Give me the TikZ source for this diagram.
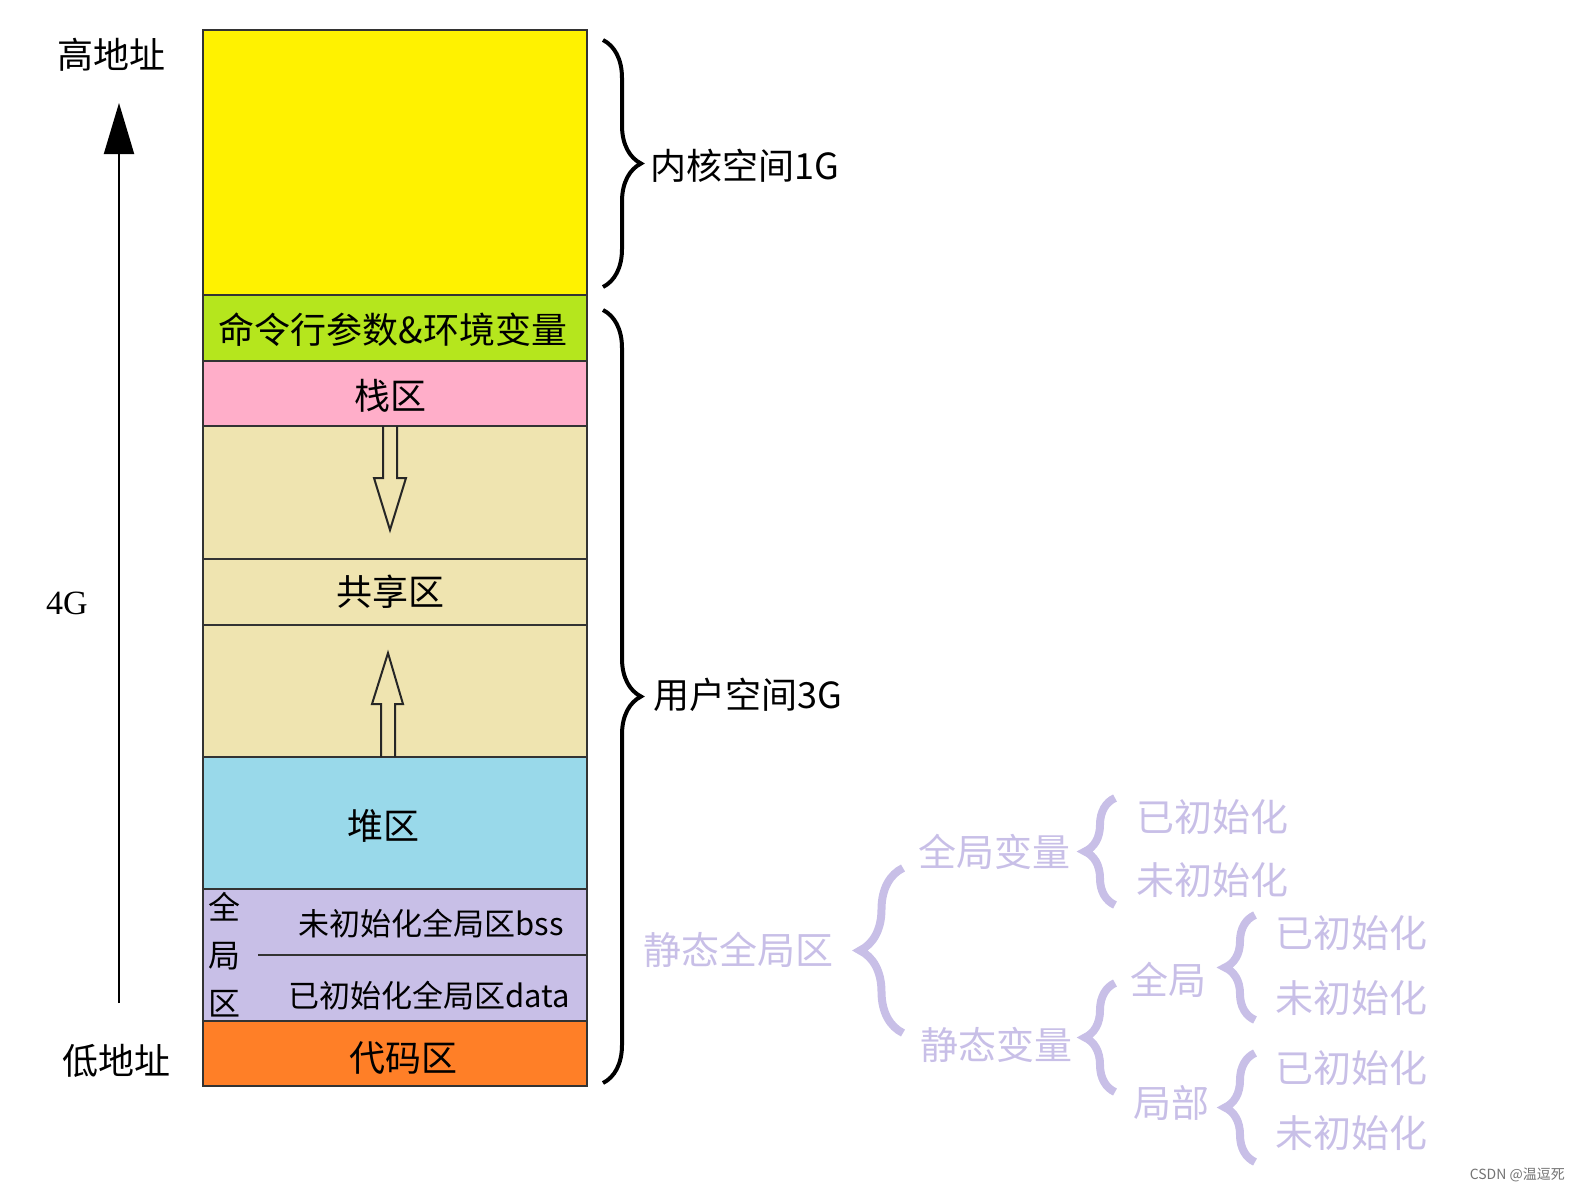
\documentclass[tikz,border=0pt]{standalone}
\usepackage{fontspec}
\newfontfamily\cjk{Noto Sans CJK SC}
\newfontfamily\serifnum{Liberation Serif}
\usetikzlibrary{arrows.meta,decorations.pathreplacing}
\definecolor{Kfill}{RGB}{255,242,0}
\definecolor{Afill}{RGB}{181,230,29}
\definecolor{Sfill}{RGB}{255,174,201}
\definecolor{Tfill}{RGB}{239,228,176}
\definecolor{Hfill}{RGB}{153,217,234}
\definecolor{Gfill}{RGB}{200,191,231}
\definecolor{Cfill}{RGB}{255,127,39}
\definecolor{Lav}{RGB}{200,191,231}

\begin{document}
\begin{tikzpicture}[x=1pt,y=-1pt,line join=miter,
  seg/.style={draw=black!80,line width=2pt},
  lbl/.style={inner sep=0pt,font=\cjk\fontsize{36}{40}\selectfont},
  slbl/.style={inner sep=0pt,font=\cjk\fontsize{31}{34}\selectfont},
  plbl/.style={inner sep=0pt,anchor=west,text=Lav,font=\cjk\fontsize{38}{42}\selectfont},
  bbrace/.style={decorate,decoration={brace,amplitude=38pt},line width=4pt},
  pbrace/.style={decorate,decoration={brace,amplitude=#1},draw=Lav,line width=8pt},
  pbrace/.default=30pt]
\path[use as bounding box] (0,0) rectangle (1580,1192);
\draw[seg,fill=Kfill] (203,30) rectangle (587,295);
\draw[seg,fill=Afill] (203,295) rectangle (587,361);
\draw[seg,fill=Sfill] (203,361) rectangle (587,426);
\draw[seg,fill=Tfill] (203,426) rectangle (587,559);
\draw[seg,fill=Tfill] (203,559) rectangle (587,625);
\draw[seg,fill=Tfill] (203,625) rectangle (587,757);
\draw[seg,fill=Hfill] (203,757) rectangle (587,889);
\draw[seg,fill=Gfill] (203,889) rectangle (587,1021);
\draw[seg] (258,955) -- (587,955);
\draw[seg,fill=Cfill] (203,1021) rectangle (587,1086);
\draw[line width=2pt,black!85] (383,426) -- (383,478) -- (374,478) -- (390,530) -- (406,478) -- (397,478) -- (397,426);
\draw[line width=2pt,black!85] (381,757) -- (381,704) -- (372,704) -- (388,653) -- (403,704) -- (395,704) -- (395,757);
\node[lbl] (argv) at (393,330) {命令行参数\&环境变量};
\node[lbl] (stack) at (390,396) {栈区};
\node[lbl] (share) at (390,592) {共享区};
\node[lbl] (heap) at (383,826) {堆区};
\node[slbl] (bss) at (431,924) {未初始化全局区bss};
\node[slbl] (data) at (429,996) {已初始化全局区data};
\node[inner sep=0pt,align=center,font=\cjk\fontsize{32}{48}\selectfont] (glob) at (224,955) {全\\局\\区};
\node[lbl] (code) at (403,1058) {代码区};
\coordinate (lo) at (119,1003);
\coordinate (hi) at (119,103);
\draw[line width=2pt,-{Triangle[width=30pt,length=51pt]}] (lo) -- (hi);
\node[lbl] (high) at (111,55) {高地址};
\node[inner sep=0pt,font=\serifnum\fontsize{34}{38}\selectfont] (size) at (67,603) {4G};
\node[lbl] (low) at (116,1061) {低地址};
\coordinate (k1) at (603,40);
\coordinate (k2) at (603,287);
\coordinate (u1) at (603,310);
\coordinate (u2) at (603,1083);
\draw[bbrace] (k1) -- (k2);
\draw[bbrace] (u1) -- (u2);
\node[lbl,anchor=west] (kern) at (650,166) {内核空间1G};
\node[lbl,anchor=west] (user) at (653,695) {用户空间3G};
\node[plbl] (stat) at (643,950) {静态全局区};
\coordinate (s1) at (903,1033);
\coordinate (s2) at (903,868);
\draw[pbrace=43pt] (s1) -- (s2);
\node[plbl] (gvar) at (918,852) {全局变量};
\node[plbl] (svar) at (920,1045) {静态变量};
\coordinate (g1) at (1115,905);
\coordinate (g2) at (1115,798);
\draw[pbrace] (g1) -- (g2);
\coordinate (v1) at (1115,1092);
\coordinate (v2) at (1115,983);
\draw[pbrace] (v1) -- (v2);
\node[plbl] (ginit) at (1136,817) {已初始化};
\node[plbl] (gzero) at (1136,880) {未初始化};
\node[plbl] (sglob) at (1130,980) {全局};
\node[plbl] (sloc) at (1133,1103) {局部};
\coordinate (a1) at (1255,1020);
\coordinate (a2) at (1255,915);
\draw[pbrace] (a1) -- (a2);
\coordinate (b1) at (1255,1162);
\coordinate (b2) at (1255,1053);
\draw[pbrace] (b1) -- (b2);
\node[plbl] (sginit) at (1275,933) {已初始化};
\node[plbl] (sgzero) at (1275,998) {未初始化};
\node[plbl] (slinit) at (1275,1068) {已初始化};
\node[plbl] (slzero) at (1275,1133) {未初始化};
\node[inner sep=0pt,anchor=east,text=black!55,font=\cjk\fontsize{14}{16}\selectfont] (mark) at (1565,1175) {CSDN @温逗死};
\end{tikzpicture}
\end{document}
